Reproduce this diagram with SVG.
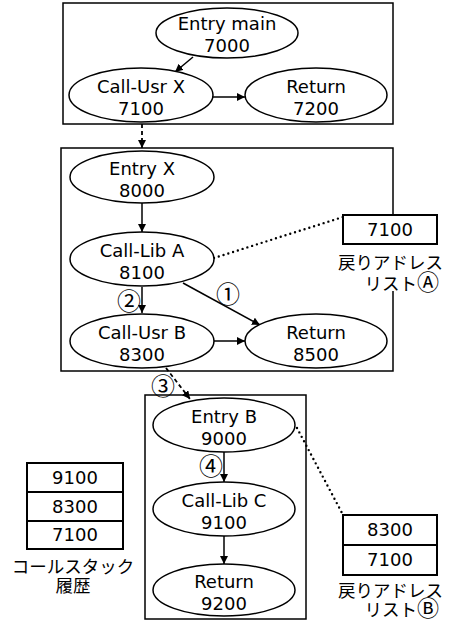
<svg xmlns="http://www.w3.org/2000/svg" width="450" height="622" viewBox="0 0 450 622">
  <style>
    .frame { fill: none; stroke: #000; stroke-width: 1.5; }
    .node ellipse { fill: #fff; stroke: #000; stroke-width: 1.5; }
    .t { font-family: "DejaVu Sans", sans-serif; font-size: 18px; fill: #000; text-anchor: middle; }
    .jp { font-family: "Noto Sans CJK JP", sans-serif; font-size: 17.5px; fill: #000; }
    .big { font-size: 22px; }
    .num { font-family: "Noto Sans CJK JP", sans-serif; font-size: 24px; fill: #000; text-anchor: middle; }
    .cell { fill: #fff; stroke: #000; stroke-width: 2; }
    .edge { fill: none; stroke: #000; stroke-width: 1.5; }
    .dash { fill: none; stroke: #000; stroke-width: 1.8; stroke-dasharray: 4 3; }
    .dot { fill: none; stroke: #000; stroke-width: 2.4; stroke-linecap: round; stroke-dasharray: 0 5; }
  </style>
  <defs>
    <marker id="arr" viewBox="0 0 10 10" refX="10" refY="5" markerWidth="8" markerHeight="8" markerUnits="userSpaceOnUse" orient="auto">
      <path d="M0,0 L10,5 L0,10 Z" fill="#000"/>
    </marker>
  </defs>

  <rect width="450" height="622" fill="#fff"/>

  <!-- procedure frames -->
  <g id="frames">
    <rect class="frame" x="63" y="3" width="330" height="121"/>
    <rect class="frame" x="61" y="148" width="332" height="223"/>
    <rect class="frame" x="145" y="395" width="161" height="224"/>
  </g>

  <!-- connectors -->
  <g id="connectors">
    <line class="edge" x1="193" y1="57" x2="175" y2="72" marker-end="url(#arr)"/>
    <line class="edge" x1="213" y1="97" x2="245" y2="97" marker-end="url(#arr)"/>
    <line class="dash" x1="142" y1="124" x2="142" y2="148" marker-end="url(#arr)"/>
    <line class="edge" x1="142" y1="203" x2="142" y2="232" marker-end="url(#arr)"/>
    <line class="edge" x1="142" y1="287" x2="142" y2="313" marker-end="url(#arr)"/>
    <line class="edge" x1="183" y1="283" x2="260" y2="325" marker-end="url(#arr)"/>
    <line class="edge" x1="213" y1="341" x2="245" y2="341" marker-end="url(#arr)"/>
    <line class="dot" x1="214" y1="258" x2="343" y2="217"/>
    <line class="dash" x1="166" y1="368" x2="190" y2="399" stroke-dasharray="3 3" marker-end="url(#arr)"/>
    <line class="edge" x1="224" y1="452" x2="224" y2="482" marker-end="url(#arr)"/>
    <line class="edge" x1="224" y1="536" x2="224" y2="564" marker-end="url(#arr)"/>
    <line class="dot" x1="297" y1="428" x2="342" y2="513"/>
    <text class="num" x="228" y="303">①</text>
    <text class="num" x="129" y="310">②</text>
    <text class="num" x="163" y="395">③</text>
    <text class="num" x="211" y="475">④</text>
  </g>

  <!-- top frame -->
  <g id="entry-main" class="node">
    <ellipse cx="227" cy="33" rx="71" ry="25"/>
    <text class="t" x="227" y="30">Entry main</text>
    <text class="t" x="227" y="52">7000</text>
  </g>
  <g id="call-usr-x" class="node">
    <ellipse cx="141" cy="95" rx="72" ry="27"/>
    <text class="t" x="141" y="93">Call-Usr X</text>
    <text class="t" x="141" y="115">7100</text>
  </g>
  <g id="return-7200" class="node">
    <ellipse cx="316" cy="95" rx="71" ry="27"/>
    <text class="t" x="316" y="93">Return</text>
    <text class="t" x="316" y="115">7200</text>
  </g>

  <!-- middle frame -->
  <g id="entry-x" class="node">
    <ellipse cx="142" cy="177" rx="72" ry="26"/>
    <text class="t" x="142" y="175">Entry X</text>
    <text class="t" x="142" y="197">8000</text>
  </g>
  <g id="call-lib-a" class="node">
    <ellipse cx="142" cy="259" rx="72" ry="27"/>
    <text class="t" x="142" y="257">Call-Lib A</text>
    <text class="t" x="142" y="279">8100</text>
  </g>
  <g id="call-usr-b" class="node">
    <ellipse cx="142" cy="341" rx="72" ry="27"/>
    <text class="t" x="142" y="339">Call-Usr B</text>
    <text class="t" x="142" y="361">8300</text>
  </g>
  <g id="return-8500" class="node">
    <ellipse cx="316" cy="341" rx="71" ry="27"/>
    <text class="t" x="316" y="339">Return</text>
    <text class="t" x="316" y="361">8500</text>
  </g>

  <!-- bottom frame -->
  <g id="entry-b" class="node">
    <ellipse cx="224" cy="425" rx="71" ry="27"/>
    <text class="t" x="224" y="423">Entry B</text>
    <text class="t" x="224" y="445">9000</text>
  </g>
  <g id="call-lib-c" class="node">
    <ellipse cx="224" cy="509" rx="71" ry="27"/>
    <text class="t" x="224" y="507">Call-Lib C</text>
    <text class="t" x="224" y="529">9100</text>
  </g>
  <g id="return-9200" class="node">
    <ellipse cx="224" cy="590" rx="71" ry="26"/>
    <text class="t" x="224" y="588">Return</text>
    <text class="t" x="224" y="610">9200</text>
  </g>

  <!-- return address list A -->
  <g id="list-a">
    <rect x="330" y="245" width="115" height="46" fill="#fff"/>
    <rect class="cell" x="343" y="215" width="94" height="29"/>
    <text class="t" x="390" y="236">7100</text>
    <text class="jp" text-anchor="end"><tspan x="443" y="269">戻りアドレス</tspan><tspan x="439" y="290">リスト<tspan class="big">Ⓐ</tspan></tspan></text>
  </g>

  <!-- return address list B -->
  <g id="list-b">
    <rect class="cell" x="343" y="515" width="94" height="30"/>
    <rect class="cell" x="343" y="545" width="94" height="30"/>
    <text class="t" x="390" y="536">8300</text>
    <text class="t" x="390" y="566">7100</text>
    <text class="jp" text-anchor="end"><tspan x="443" y="597">戻りアドレス</tspan><tspan x="439" y="616">リスト<tspan class="big">Ⓑ</tspan></tspan></text>
  </g>

  <!-- call stack history -->
  <g id="call-stack">
    <rect class="cell" x="27" y="463" width="96" height="29"/>
    <rect class="cell" x="27" y="492" width="96" height="29"/>
    <rect class="cell" x="27" y="521" width="96" height="28"/>
    <text class="t" x="75" y="484">9100</text>
    <text class="t" x="75" y="513">8300</text>
    <text class="t" x="75" y="541">7100</text>
    <text class="jp" text-anchor="middle"><tspan x="73" y="573">コールスタック</tspan><tspan x="73" y="592">履歴</tspan></text>
  </g>
</svg>
